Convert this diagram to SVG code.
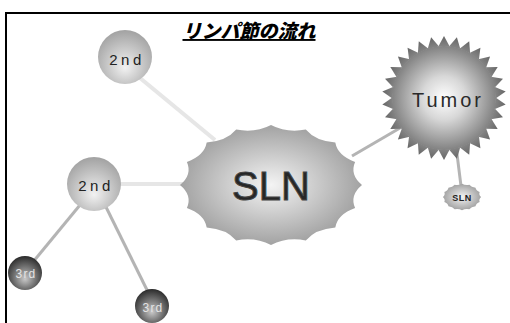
<svg xmlns="http://www.w3.org/2000/svg" xmlns:xlink="http://www.w3.org/1999/xlink" width="510" height="323" viewBox="0 0 510 323">
<style>
.lt{stroke:#e6e6e6;stroke-width:4;fill:none}
.dk{stroke:#b4b4b4;stroke-width:3;fill:none}
.t2{font-family:"Liberation Sans",Arial,sans-serif;font-size:15px;fill:#222;letter-spacing:3.5px;text-anchor:middle}
.t3{font-family:"Liberation Sans",Arial,sans-serif;font-size:12px;fill:#e4e4e4;letter-spacing:1.2px;text-anchor:middle}
</style>
<defs>
<radialGradient id="gSln" cx="0.5" cy="0.5" r="0.55">
<stop offset="0" stop-color="#f4f4f4"/>
<stop offset="1" stop-color="#9a9a9a"/>
</radialGradient>
<radialGradient id="gStar" gradientUnits="userSpaceOnUse" cx="0" cy="0" r="62">
<stop offset="0" stop-color="#ffffff"/>
<stop offset="0.35" stop-color="#d8d8d8"/>
<stop offset="1" stop-color="#666"/>
</radialGradient>
<radialGradient id="g2" cx="0.5" cy="0.62" r="0.6" fx="0.5" fy="0.7">
<stop offset="0" stop-color="#f2f2f2"/>
<stop offset="1" stop-color="#a4a4a4"/>
</radialGradient>
<radialGradient id="g3" cx="0.5" cy="0.6" r="0.6" fx="0.5" fy="0.68">
<stop offset="0" stop-color="#c8c8c8"/>
<stop offset="1" stop-color="#2a2a2a"/>
</radialGradient>
<path id="cloud" d="M91,0 Q78.5,10.3 84.1,23 Q66.6,29.3 64.3,42.4 Q44.5,43.9 34.8,55.4 Q15.6,51.8 0,60 Q-15.6,51.8 -34.8,55.4 Q-44.5,43.9 -64.3,42.4 Q-66.6,29.3 -84.1,23 Q-78.5,10.3 -91,0 Q-78.5,-10.3 -84.1,-23 Q-66.6,-29.3 -64.3,-42.4 Q-44.5,-43.9 -34.8,-55.4 Q-15.6,-51.8 0,-60 Q15.6,-51.8 34.8,-55.4 Q44.5,-43.9 64.3,-42.4 Q66.6,-29.3 84.1,-23 Q78.5,-10.3 91,0 Z"/>
<polygon id="spike" points="-5.8,-51.3 0,-62 5.8,-51.3" fill="url(#gStar)"/>
</defs>
<rect width="510" height="323" fill="#fff"/>
<polyline points="6,323 6,13 510,13" fill="none" stroke="#000" stroke-width="2"/>
<text x="249" y="38" font-family="'Noto Sans CJK JP',sans-serif" font-size="19" font-weight="900" font-style="italic" text-decoration="underline" text-anchor="middle" fill="#000">リンパ節の流れ</text>
<g id="connectors">
<line class="lt" x1="140" y1="78" x2="215" y2="140"/>
<line class="lt" x1="118" y1="184" x2="185" y2="184"/>
<line class="dk" x1="80" y1="205" x2="33" y2="262"/>
<line class="dk" x1="105" y1="205" x2="148" y2="292"/>
<line class="dk" x1="352" y1="156" x2="400" y2="128"/>
<line class="dk" x1="456" y1="146" x2="461" y2="186"/>
</g>
<g id="tumor">
<g transform="translate(444,98)">
<circle r="52" fill="url(#gStar)"/>
<use xlink:href="#spike"/><use xlink:href="#spike" transform="rotate(12)"/><use xlink:href="#spike" transform="rotate(24)"/><use xlink:href="#spike" transform="rotate(36)"/><use xlink:href="#spike" transform="rotate(48)"/><use xlink:href="#spike" transform="rotate(60)"/><use xlink:href="#spike" transform="rotate(72)"/><use xlink:href="#spike" transform="rotate(84)"/><use xlink:href="#spike" transform="rotate(96)"/><use xlink:href="#spike" transform="rotate(108)"/><use xlink:href="#spike" transform="rotate(120)"/><use xlink:href="#spike" transform="rotate(132)"/><use xlink:href="#spike" transform="rotate(144)"/><use xlink:href="#spike" transform="rotate(156)"/><use xlink:href="#spike" transform="rotate(168)"/><use xlink:href="#spike" transform="rotate(180)"/><use xlink:href="#spike" transform="rotate(192)"/><use xlink:href="#spike" transform="rotate(204)"/><use xlink:href="#spike" transform="rotate(216)"/><use xlink:href="#spike" transform="rotate(228)"/><use xlink:href="#spike" transform="rotate(240)"/><use xlink:href="#spike" transform="rotate(252)"/><use xlink:href="#spike" transform="rotate(264)"/><use xlink:href="#spike" transform="rotate(276)"/><use xlink:href="#spike" transform="rotate(288)"/><use xlink:href="#spike" transform="rotate(300)"/><use xlink:href="#spike" transform="rotate(312)"/><use xlink:href="#spike" transform="rotate(324)"/><use xlink:href="#spike" transform="rotate(336)"/><use xlink:href="#spike" transform="rotate(348)"/>
</g>
<text x="448" y="107" font-family="'Liberation Sans',Arial,sans-serif" font-size="20" letter-spacing="3" text-anchor="middle" fill="#2a2a2a">Tumor</text>
</g>
<g id="sln">
<use xlink:href="#cloud" transform="translate(271,185)" fill="url(#gSln)"/>
<text x="271" y="200" font-family="'Liberation Sans',Arial,sans-serif" font-size="40" text-anchor="middle" fill="#262626" stroke="#444" stroke-width="1">SLN</text>
</g>
<g id="sln-small">
<use xlink:href="#cloud" transform="translate(462,197) scale(0.21,0.22)" fill="url(#gSln)"/>
<text x="462" y="201" font-family="'Liberation Sans',Arial,sans-serif" font-size="9" font-weight="bold" letter-spacing="0.5" text-anchor="middle" fill="#222">SLN</text>
</g>
<g id="second-top">
<circle cx="125" cy="57" r="27" fill="url(#g2)"/>
<text class="t2" x="127" y="65">2nd</text>
</g>
<g id="second-mid">
<circle cx="94" cy="184" r="27" fill="url(#g2)"/>
<text class="t2" x="96" y="191">2nd</text>
</g>
<g id="third-left">
<circle cx="25" cy="273" r="17" fill="url(#g3)"/>
<text class="t3" x="26" y="278">3rd</text>
</g>
<g id="third-bottom">
<circle cx="152" cy="306" r="17" fill="url(#g3)"/>
<text class="t3" x="153" y="312">3rd</text>
</g>
</svg>
